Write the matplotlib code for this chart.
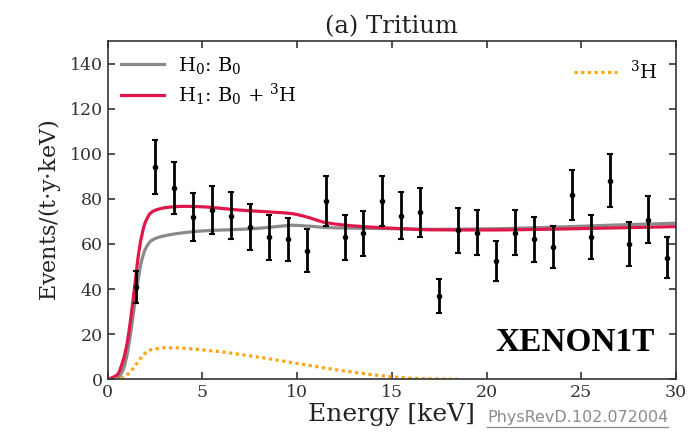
import numpy as np
import matplotlib
matplotlib.use('Agg')
import matplotlib.pyplot as plt
from matplotlib.lines import Line2D

plt.rcParams['font.family'] = 'DejaVu Serif'
plt.rcParams['mathtext.fontset'] = 'dejavuserif'

# binned data (1 keV bins)
bin_centers = np.arange(1.5, 30.0, 1.0)
rates = [41, 94, 85, 72, 75, 72.5, 67.7, 63, 62, 57, 79, 63, 64.7, 79,
         72.5, 74, 37, 66, 65, 52.4, 65, 62, 58.5, 81.7, 63, 88, 60, 70.8, 54]
errors = [7, 12, 11.5, 10.5, 10.7, 10.4, 10.2, 10, 9.7, 9.5, 11, 10, 10, 11,
          10.4, 10.7, 7.4, 10, 10, 9, 10, 9.8, 9.3, 11.2, 9.7, 11.8, 9.9, 10.4, 9.2]

# fit curves
curve_e = [0, 0.5, 0.8, 1.0, 1.2, 1.4, 1.6, 1.8, 2.0, 2.3, 2.7, 3.2, 4, 5, 6, 7,
           8, 9, 9.7, 10.5, 11.5, 13, 15, 17, 20, 23, 26, 30]
h0_b0 = [0, 0.5, 4, 10, 20, 32, 44, 53, 58, 61.5, 63, 64, 65, 65.8, 66.2, 66.5,
         67, 67.8, 68.3, 68, 67.3, 67, 66.8, 66.5, 66.7, 67.3, 68.2, 69.2]
h1_b0_h3 = [0, 2, 8, 15, 26, 40, 54, 64, 70, 74, 75.5, 76.3, 76.7, 76.5, 75.8, 75,
            74.5, 74, 73.5, 72, 69.5, 68, 67, 66.3, 66.2, 66.5, 67, 67.7]

tritium_e = [0, 0.5, 0.8, 1.27, 1.6, 1.9, 2.2, 2.6, 3.0, 3.5, 4.0, 5, 6, 7, 8, 9,
             10, 11, 12, 13, 14, 15, 16, 17, 18, 18.6]
tritium = [0, 0.1, 0.7, 4.1, 7.8, 11, 12.9, 13.6, 14, 14, 13.8, 13, 12.2, 11, 9.8,
           8.4, 7, 5.6, 4.3, 3.1, 2, 1.1, 0.5, 0.2, 0.05, 0]

x_ticks = [0, 5, 10, 15, 20, 25, 30]
y_ticks = [0, 20, 40, 60, 80, 100, 120, 140]


def smooth(xs, ys, n=600):
    # piecewise cubic hermite through the read-off points (numpy only)
    xs = np.asarray(xs, float)
    ys = np.asarray(ys, float)
    grid = np.linspace(xs[0], xs[-1], n)
    h = np.diff(xs)
    d = np.diff(ys) / h
    m = np.zeros_like(ys)
    m[0], m[-1] = d[0], d[-1]
    for i in range(1, len(xs) - 1):
        if d[i - 1] * d[i] <= 0:
            m[i] = 0
        else:
            w1 = 2 * h[i] + h[i - 1]
            w2 = h[i] + 2 * h[i - 1]
            m[i] = (w1 + w2) / (w1 / d[i - 1] + w2 / d[i])
    idx = np.clip(np.searchsorted(xs, grid) - 1, 0, len(xs) - 2)
    t = (grid - xs[idx]) / h[idx]
    h00 = 2 * t**3 - 3 * t**2 + 1
    h10 = t**3 - 2 * t**2 + t
    h01 = -2 * t**3 + 3 * t**2
    h11 = t**3 - t**2
    out = h00 * ys[idx] + h10 * h[idx] * m[idx] + h01 * ys[idx + 1] + h11 * h[idx] * m[idx + 1]
    return grid, out


fig = plt.figure(figsize=(6.92, 4.32), dpi=100)
ax = fig.add_axes([0.1557, 0.122, 0.8213, 0.783])

gx, gy = smooth(curve_e, h0_b0)
l0, = ax.plot(gx, gy, color='#8a8a8a', lw=2.3, label='H$_0$: B$_0$')
rx, ry = smooth(curve_e, h1_b0_h3)
l1, = ax.plot(rx, ry, color='#e0174a', lw=2.3, label='H$_1$: B$_0$ + $^3$H')
tx, ty = smooth(tritium_e, tritium)
l2, = ax.plot(tx, ty, color='#ffa514', lw=2.3, ls=(0, (1, 1.1)), label='$^3$H')

ax.errorbar(bin_centers, rates, yerr=errors, fmt='o', color='black', ms=3,
            elinewidth=2, capsize=2.5, capthick=1.5)

ax.set_xlim(0, 30)
ax.set_ylim(0, 150)
ax.set_xticks(x_ticks)
ax.set_yticks(y_ticks)
ax.tick_params(direction='in', top=True, right=True, length=5, width=1.2,
               labelsize=12.5, colors='#333333')
for sp in ax.spines.values():
    sp.set_linewidth(1.2)
    sp.set_color('#333333')

ax.set_xlabel('Energy [keV]', fontsize=18, color='#222222', labelpad=1)
ax.set_ylabel(r'Events/(t$\cdot$y$\cdot$keV)', fontsize=16, color='#222222', labelpad=5)
ax.set_title('(a) Tritium', fontsize=17.5, color='#222222', pad=6)

leg1 = ax.legend(handles=[l0, l1], loc='upper left', frameon=False, fontsize=14,
                 handlelength=2.2, handletextpad=0.7, labelspacing=0.3,
                 borderaxespad=0.3)
ax.add_artist(leg1)
ax.legend(handles=[l2], loc='upper right', frameon=False, fontsize=14,
          handlelength=2.2, handletextpad=0.7, borderaxespad=0.55)

ax.text(0.963, 0.083, 'XENON1T', transform=ax.transAxes, ha='right', va='baseline',
        fontsize=24, fontweight='bold', family='Liberation Serif', color='black')

ref = fig.text(0.966, 0.022, 'PhysRevD.102.072004', ha='right', va='baseline',
               fontsize=11.5, family='DejaVu Sans', color='#8c8c8c')
fig.canvas.draw()
bb = ref.get_window_extent().transformed(fig.transFigure.inverted())
uy = 0.022 - 4.5 / 432
fig.add_artist(Line2D([bb.x0, bb.x1], [uy, uy],
                      transform=fig.transFigure, color='#8c8c8c', lw=0.9))

fig.savefig('out.png', dpi=100)
